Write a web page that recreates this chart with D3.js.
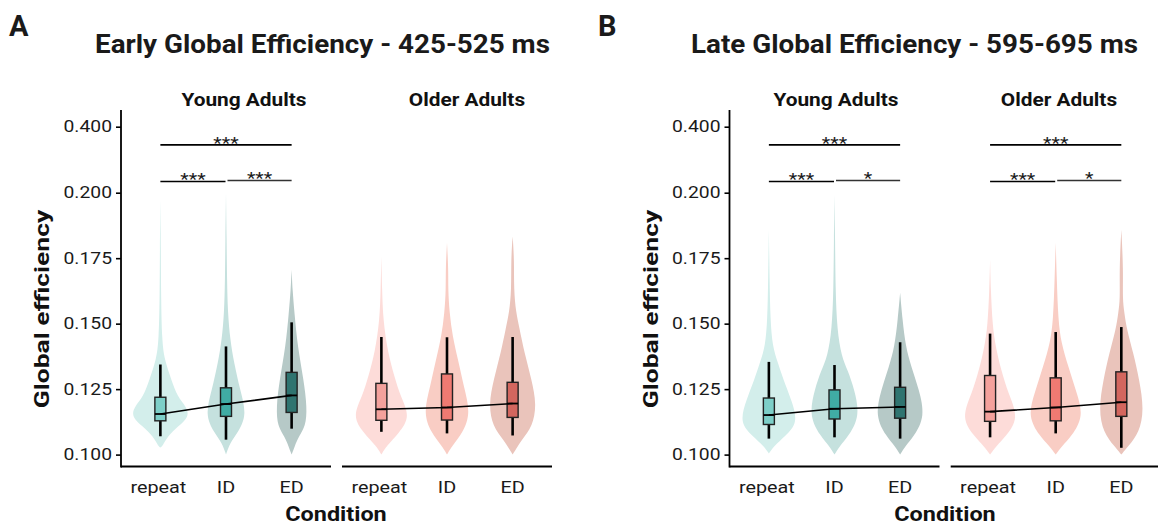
<!DOCTYPE html>
<html>
<head>
<meta charset="utf-8">
<script src="https://cdn.jsdelivr.net/npm/d3@7"></script>
<style>
  body { margin: 0; background: #fff; }
  svg { font-family: Roboto, "Noto Sans", sans-serif; }
</style>
</head>
<body>
<div class="chart"></div>
<script>
// data
var conditions = ["repeat", "ID", "ED"];
var groups = ["Young Adults", "Older Adults"];
var yTicks = [0.100, 0.125, 0.150, 0.175, 0.200, 0.400];

// box stats: [lower whisker, q1, median, q3, upper whisker]
var earlyYoungBox = [[0.1070, 0.1129, 0.1155, 0.1219, 0.1344], [0.1057, 0.1146, 0.1193, 0.1255, 0.1413], [0.1099, 0.1161, 0.1226, 0.1314, 0.1505]];
var earlyOlderBox = [[0.1087, 0.1131, 0.1173, 0.1272, 0.1449], [0.1081, 0.1132, 0.1180, 0.1308, 0.1448], [0.1073, 0.1142, 0.1195, 0.1276, 0.1449]];
var lateYoungBox  = [[0.1061, 0.1115, 0.1151, 0.1216, 0.1354], [0.1066, 0.1136, 0.1175, 0.1247, 0.1342], [0.1061, 0.1139, 0.1182, 0.1257, 0.1429]];
var lateOlderBox  = [[0.1066, 0.1127, 0.1164, 0.1302, 0.1462], [0.1081, 0.1129, 0.1180, 0.1293, 0.1468], [0.1026, 0.1146, 0.1200, 0.1316, 0.1487]];

// violin profiles: [value, density]
var earlyYoungViolin = [
  [[0.1027,0],[0.1031,2],[0.1069,7],[0.1107,17.5],[0.1145,29],[0.1183,26],[0.1221,17],[0.1286,11],[0.1363,4],[0.1439,1.6],[0.1592,0.7],[0.1782,0.5],[0.1973,0]],
  [[0.1000,0],[0.1046,4],[0.1084,12],[0.1153,21],[0.1248,14],[0.1351,8],[0.1439,4.2],[0.1542,1.8],[0.1668,1],[0.1821,0.6],[0.2000,0]],
  [[0.1000,0],[0.1031,3],[0.1069,7],[0.1107,14],[0.1179,15.5],[0.1286,12],[0.1412,6],[0.1542,2.8],[0.1630,0.9],[0.1706,0]]
];
var earlyOlderViolin = [
  [[0.1000,0],[0.1032,5],[0.1084,18],[0.1146,29],[0.1223,19],[0.1299,13],[0.1389,6.5],[0.1515,1.7],[0.1630,0.7],[0.1757,0]],
  [[0.1000,0],[0.1032,5],[0.1084,16],[0.1159,23.7],[0.1261,16.7],[0.1363,11],[0.1452,5.5],[0.1542,2.5],[0.1630,1.1],[0.1706,1.4],[0.1809,0]],
  [[0.1000,0],[0.1057,9],[0.1108,20],[0.1191,24],[0.1286,19],[0.1389,11.7],[0.1490,6.5],[0.1542,3.4],[0.1630,1.2],[0.1744,1.6],[0.1833,0]]
];
var lateYoungViolin = [
  [[0.1004,0],[0.1032,5],[0.1070,16],[0.1121,29.5],[0.1210,22.5],[0.1286,14.5],[0.1351,9],[0.1413,3.6],[0.1515,1.5],[0.1668,0.7],[0.1859,0]],
  [[0.1000,0],[0.1032,5],[0.1070,14],[0.1146,25.5],[0.1248,20],[0.1324,13],[0.1375,7],[0.1477,2.6],[0.1630,1],[0.1821,0.6],[0.1992,0]],
  [[0.1000,0],[0.1032,5],[0.1070,14],[0.1146,25],[0.1248,19],[0.1337,11],[0.1413,5.5],[0.1515,2.4],[0.1618,0]]
];
var lateOlderViolin = [
  [[0.1000,0],[0.1032,6],[0.1070,16],[0.1140,29],[0.1236,18],[0.1324,11],[0.1413,5.5],[0.1490,2.5],[0.1630,0.7],[0.1744,0]],
  [[0.1000,0],[0.1032,6],[0.1070,16],[0.1146,28],[0.1237,21],[0.1337,12.5],[0.1426,5.5],[0.1515,2.5],[0.1668,1.1],[0.1809,0]],
  [[0.1000,0],[0.1032,7],[0.1084,18],[0.1172,22.7],[0.1286,18],[0.1388,12],[0.1477,5.5],[0.1542,3],[0.1595,1.2],[0.1706,2],[0.1859,0]]
];

var earlyBrackets = [
  {group: "Young Adults", from: "repeat", to: "ED", level: 0.345, label: "***"},
  {group: "Young Adults", from: "repeat", to: "ID", level: 0.234, label: "***"},
  {group: "Young Adults", from: "ID", to: "ED", level: 0.237, label: "***"}
];
var lateBrackets = [
  {group: "Young Adults", from: "repeat", to: "ED", level: 0.345, label: "***"},
  {group: "Young Adults", from: "repeat", to: "ID", level: 0.234, label: "***"},
  {group: "Young Adults", from: "ID", to: "ED", level: 0.237, label: "*"},
  {group: "Older Adults", from: "repeat", to: "ED", level: 0.345, label: "***"},
  {group: "Older Adults", from: "repeat", to: "ID", level: 0.234, label: "***"},
  {group: "Older Adults", from: "ID", to: "ED", level: 0.237, label: "*"}
];

var boxColors = {
  "Young Adults": ["#7dcfc8", "#40aca4", "#2f7470"],
  "Older Adults": ["#f4a19c", "#ef7a72", "#d3665e"]
};
var violinColors = {
  "Young Adults": ["#d3eeeb", "#c5e1de", "#b6c9c7"],
  "Older Adults": ["#fddcd9", "#f9cdc4", "#eac4bb"]
};

var svg = d3.select(".chart").append("svg")
  .attr("width", 1158)
  .attr("height", 525);

var y = d3.scaleLinear().domain([0.1, 0.2, 0.4]).range([454.6, 192.7, 126.7]);
var w = d3.scaleLinear().domain([0, 30]).range([0, 30]);

// the original figure's text is wider than plain Roboto, stretch it a bit
function stretch(sel, k) {
  sel.each(function() {
    var len = this.getComputedTextLength();
    d3.select(this).attr("textLength", len * k).attr("lengthAdjust", "spacingAndGlyphs");
  });
}

function drawPanel(opt) {
  var g = svg.append("g");

  // letter + title
  g.append("text").attr("x", opt.letterX).attr("y", 36)
    .attr("font-size", 29).attr("font-weight", "bold").attr("fill", "#1a1a1a")
    .text(opt.letter);
  g.append("text").attr("x", opt.titleX).attr("y", 53)
    .attr("font-size", 26).attr("font-weight", "bold").attr("fill", "#1a1a1a")
    .attr("textLength", opt.titleW).attr("lengthAdjust", "spacingAndGlyphs")
    .text(opt.title);

  // y axis
  var yAxis = d3.axisLeft(y).tickValues(yTicks).tickSize(5).tickPadding(4)
    .tickFormat(d3.format(".3f"));
  var ya = g.append("g").attr("transform", "translate(" + opt.axisX + ",0)").call(yAxis);
  ya.select(".domain").remove();
  ya.selectAll(".tick line").attr("stroke", "#000").attr("stroke-width", 1.6);
  ya.selectAll(".tick text").attr("font-size", 16.5).attr("fill", "#1a1a1a")
    .attr("font-family", "Roboto");
  stretch(ya.selectAll(".tick text"), 1.17);
  g.append("line").attr("x1", opt.axisX).attr("x2", opt.axisX)
    .attr("y1", 110).attr("y2", 467.5).attr("stroke", "#000").attr("stroke-width", 1.8);

  var yl = g.append("text")
    .attr("transform", "translate(" + opt.yLabelX + ",309) rotate(-90)")
    .attr("text-anchor", "middle").attr("font-size", 21).attr("font-weight", "bold")
    .attr("fill", "#111").text("Global efficiency");
  stretch(yl, 1.26);

  var xl = g.append("text").attr("x", opt.xLabelX).attr("y", 521)
    .attr("text-anchor", "middle").attr("font-size", 19.5).attr("font-weight", "bold")
    .attr("fill", "#111").text("Condition");
  stretch(xl, 1.2);

  groups.forEach(function(grp, gi) {
    var x0 = opt.facets[gi];
    var x = d3.scalePoint().domain(conditions).range([x0, x0 + 210]).padding(0.6);
    var fg = g.append("g");
    var boxes = opt.boxes[gi];
    var violins = opt.violins[gi];

    // strip label
    var st = fg.append("text").attr("x", opt.stripX[gi]).attr("y", 106)
      .attr("text-anchor", "middle").attr("font-size", 17.5).attr("font-weight", "bold")
      .attr("fill", "#111").text(grp);
    stretch(st, 1.19);

    // x axis
    fg.append("line").attr("x1", x0).attr("x2", x0 + 210)
      .attr("y1", 466.5).attr("y2", 466.5).attr("stroke", "#000").attr("stroke-width", 1.8);
    conditions.forEach(function(c) {
      var t = fg.append("text").attr("x", x(c) - (c === "repeat" ? 2 : 0)).attr("y", 493)
        .attr("text-anchor", "middle").attr("font-size", 16.5).attr("fill", "#1a1a1a").text(c);
      stretch(t, 1.2);
    });

    // violins
    conditions.forEach(function(c, i) {
      var cx = x(c);
      var area = d3.area()
        .x0(function(d) { return cx - w(d[1]); })
        .x1(function(d) { return cx + w(d[1]); })
        .y(function(d) { return y(d[0]); })
        .curve(d3.curveBasis);
      fg.append("path").attr("d", area(violins[i]))
        .attr("fill", violinColors[grp][i]).attr("stroke", "none");
    });

    // whiskers + boxes
    conditions.forEach(function(c, i) {
      var cx = x(c), b = boxes[i];
      fg.append("line").attr("x1", cx).attr("x2", cx)
        .attr("y1", y(b[0])).attr("y2", y(b[4]))
        .attr("stroke", "#000").attr("stroke-width", 2.6);
      fg.append("rect").attr("x", cx - 5.5).attr("width", 11)
        .attr("y", y(b[3])).attr("height", y(b[1]) - y(b[3]))
        .attr("fill", boxColors[grp][i]).attr("stroke", "#222").attr("stroke-width", 1.4);
      fg.append("line").attr("x1", cx - 5.5).attr("x2", cx + 5.5)
        .attr("y1", y(b[2])).attr("y2", y(b[2]))
        .attr("stroke", "#000").attr("stroke-width", 1.8);
    });

    // median trend line
    var line = d3.line()
      .x(function(d, i) { return x(conditions[i]); })
      .y(function(d) { return y(d[2]); });
    fg.append("path").attr("d", line(boxes))
      .attr("fill", "none").attr("stroke", "#000").attr("stroke-width", 1.6);

    // significance brackets
    opt.brackets.filter(function(b) { return b.group === grp; }).forEach(function(b) {
      var xa = x(b.from) + (b.from === "ID" ? 1.5 : 0);
      var xb = x(b.to) - (b.to === "ID" ? 0.5 : 0);
      var yy = y(b.level);
      fg.append("line").attr("x1", xa).attr("x2", xb).attr("y1", yy).attr("y2", yy)
        .attr("stroke", b.from === "ID" ? "#333" : "#000").attr("stroke-width", 1.6);
      var s = fg.append("text").attr("x", (xa + xb) / 2).attr("y", yy + 4)
        .attr("text-anchor", "middle").attr("font-size", 17).attr("fill", "#1a1a1a")
        .text(b.label);
      stretch(s, 1.15);
    });
  });
}

drawPanel({
  letter: "A", letterX: 9, title: "Early Global Efficiency - 425-525 ms", titleX: 95, titleW: 455,
  axisX: 121, yLabelX: 49, xLabelX: 336, facets: [121, 342], stripX: [244, 467],
  boxes: [earlyYoungBox, earlyOlderBox], violins: [earlyYoungViolin, earlyOlderViolin],
  brackets: earlyBrackets
});
drawPanel({
  letter: "B", letterX: 598, title: "Late Global Efficiency - 595-695 ms", titleX: 691, titleW: 447,
  axisX: 729.5, yLabelX: 658, xLabelX: 945, facets: [729.5, 950.7], stripX: [836, 1059],
  boxes: [lateYoungBox, lateOlderBox], violins: [lateYoungViolin, lateOlderViolin],
  brackets: lateBrackets
});
</script>
</body>
</html>
